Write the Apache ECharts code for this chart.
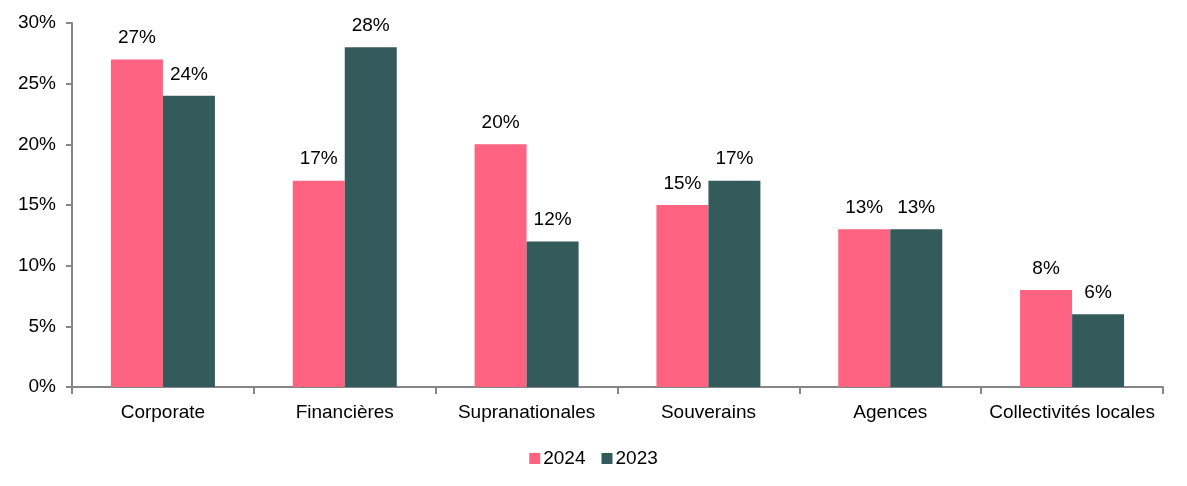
<!DOCTYPE html>
<html>
<head>
<meta charset="utf-8">
<script src="https://cdn.jsdelivr.net/npm/echarts@6/dist/echarts.min.js"></script>
<style>
  html, body { margin: 0; padding: 0; background: #fff; }
  #chart { width: 1187px; height: 486px; }
</style>
</head>
<body>
<div id="chart"></div>
<script>
var categories = ['Corporate', 'Financières', 'Supranationales', 'Souverains', 'Agences', 'Collectivités locales'];
var values2024 = [27, 17, 20, 15, 13, 8];
var values2023 = [24, 28, 12, 17, 13, 6];
var yTicks = [0, 5, 10, 15, 20, 25, 30];

var font = '"Liberation Sans", Arial, sans-serif';
var fs = 19;

var chart = echarts.init(document.getElementById('chart'));
var option = {
    animation: false,
    textStyle: { fontFamily: font },
    grid: {
        left: 72,
        right: 24,
        top: 23,
        bottom: 99
    },
    legend: {
        bottom: 13,
        left: 'center',
        itemWidth: 11,
        itemHeight: 11,
        itemGap: 16,
        icon: 'rect',
        textStyle: { fontFamily: font, fontSize: fs, color: '#000', padding: [0, 0, 0, -2] },
        data: ['2024', '2023']
    },
    xAxis: {
        type: 'category',
        data: categories,
        axisLine: { lineStyle: { color: '#868686', width: 2 } },
        axisTick: { show: true, alignWithLabel: false, length: 7, lineStyle: { color: '#868686', width: 2 } },
        axisLabel: { color: '#000', fontSize: fs, margin: 16, fontFamily: font, interval: 0 }
    },
    yAxis: {
        type: 'value',
        min: yTicks[0],
        max: yTicks[yTicks.length - 1],
        interval: 5,
        splitLine: { show: false },
        axisLine: { show: true, lineStyle: { color: '#868686', width: 2 } },
        axisTick: { show: true, length: 6, lineStyle: { color: '#868686', width: 2 } },
        axisLabel: { color: '#000', fontSize: fs, margin: 16, fontFamily: font, formatter: '{value}%' }
    },
    series: [
        {
            name: '2024',
            type: 'bar',
            data: values2024,
            barWidth: 52,
            barGap: '0%',
            itemStyle: { color: '#FF6381' },
            label: { show: true, position: 'top', distance: 12, color: '#000', fontSize: fs, fontFamily: font, formatter: '{c}%' }
        },
        {
            name: '2023',
            type: 'bar',
            data: values2023,
            barWidth: 52,
            barGap: '0%',
            itemStyle: { color: '#335B5B' },
            label: { show: true, position: 'top', distance: 12, color: '#000', fontSize: fs, fontFamily: font, formatter: '{c}%' }
        }
    ]
};
chart.setOption(option);
</script>
</body>
</html>
